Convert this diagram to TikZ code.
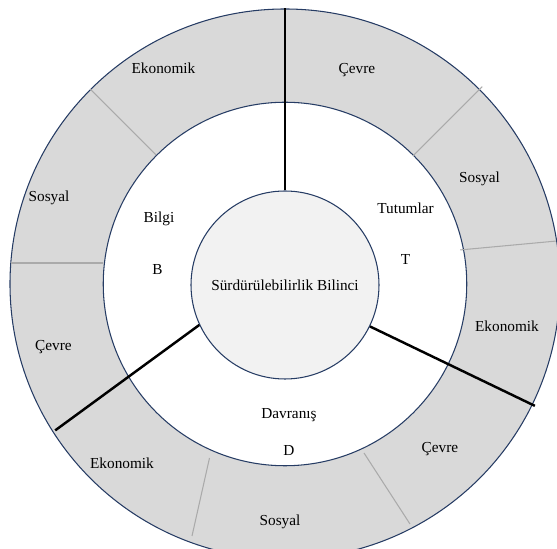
\documentclass[tikz,border=0pt]{standalone}
\usepackage{fontspec}
\setmainfont{Liberation Serif}
\definecolor{ringgray}{RGB}{217,217,217}
\definecolor{coregray}{RGB}{242,242,242}
\definecolor{rimblue}{RGB}{38,60,100}
\definecolor{splitgray}{RGB}{170,170,170}
\begin{document}
\begin{tikzpicture}[font=\fontsize{8.7}{10}\selectfont]
        \tikzstyle{disc}=[circle,draw=rimblue,line width=0.6pt,inner sep=0pt]
        \tikzstyle{divider}=[draw,black,line width=1.4pt]
        \tikzstyle{split}=[draw,splitgray,line width=0.6pt]
        \tikzstyle{lbl}=[inner sep=1pt]
        \useasboundingbox (-5.7,-5.3) rectangle (5.44,5.68);
    	\begin{scope}
         \node [disc,fill=ringgray,minimum size=11cm] (outer) at (0,0) {};
         \node [disc,fill=white,minimum size=7.27cm] (mid) at (0,0) {};

         % thin borders between the outer parts
         \path[split] (mid.135) to (outer.135);
         \path[split] (-3.63,0.42) to (-5.48,0.42);
         \path[split] (45:3.62) to (45:5.58);
         \path[split] (11:3.57) to (9:5.49);
         \path[split] (1.58,-3.38) to (2.5,-4.8);
         \path[split] (-1.51,-3.48) to (-1.86,-5.04);

         \node [disc,fill=coregray,minimum size=3.76cm] (core) at (0,-0.02) {Sürdürülebilirlik Bilinci};

         \path[divider] (core.90) to (outer.90);
         \path[divider] (core.-26) to (-26:5.56);
         \path[divider] (core.205) to (212.5:5.45);

         \node [lbl] (bilgi) at (-2.52,1.31) {Bilgi};
         \node [lbl] (b) at (-2.55,0.28) {B};
         \node [lbl] (tutum) at (2.41,1.51) {Tutumlar};
         \node [lbl] (t) at (2.41,0.48) {T};
         \node [lbl] (davr) at (0.08,-2.63) {Davranış};
         \node [lbl] (d) at (0.08,-3.33) {D};

         \node [lbl] (b1) at (-2.43,4.31) {Ekonomik};
         \node [lbl] (b2) at (-4.72,1.72) {Sosyal};
         \node [lbl] (b3) at (-4.63,-1.26) {Çevre};
         \node [lbl] (t1) at (1.44,4.27) {Çevre};
         \node [lbl] (t2) at (3.89,2.11) {Sosyal};
         \node [lbl] (t3) at (4.44,-0.84) {Ekonomik};
         \node [lbl] (d1) at (3.10,-3.31) {Çevre};
         \node [lbl] (d2) at (-0.10,-4.75) {Sosyal};
         \node [lbl] (d3) at (-3.26,-3.59) {Ekonomik};
         \end{scope}
      \end{tikzpicture}
\end{document}
